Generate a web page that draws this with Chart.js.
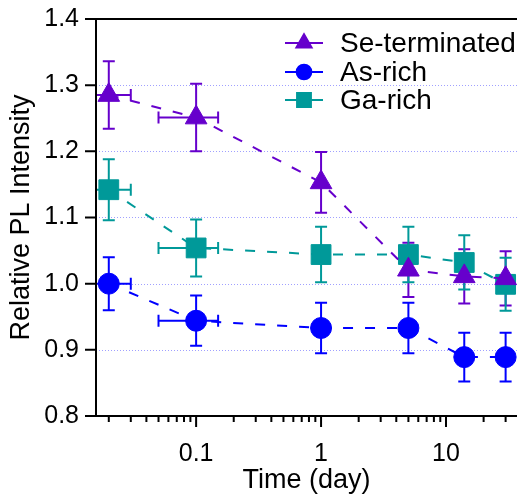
<!DOCTYPE html>
<html>
<head>
<meta charset="utf-8">
<script src="https://cdn.jsdelivr.net/npm/chart.js@4.4.1/dist/chart.umd.min.js"></script>
<style>
html, body { margin: 0; padding: 0; background: #fff; }
</style>
</head>
<body>
<canvas id="myChart" width="517" height="498"></canvas>
<script>
// data
const days = [0.02, 0.1, 1, 5, 14, 30];
const dayErr = [0.01, 0.05, 0, 0, 0, 0];
const seValues = [1.285, 1.251, 1.153, 1.021, 1.011, 1.008];
const seErr = [0.051, 0.051, 0.046, 0.041, 0.041, 0.041];
const asValues = [1.0, 0.944, 0.933, 0.933, 0.889, 0.889];
const asErr = [0.04, 0.038, 0.038, 0.038, 0.037, 0.037];
const gaValues = [1.142, 1.054, 1.044, 1.044, 1.032, 0.999];
const gaErr = [0.046, 0.043, 0.042, 0.042, 0.041, 0.04];
const yTicks = [0.8, 0.9, 1.0, 1.1, 1.2, 1.3, 1.4];
const xLabels = [0.1, 1, 10];

const FONT = '"Liberation Sans", Arial, sans-serif';

function makeSet(label, values, err, color, style, radius) {
    return {
        label: label,
        data: days.map((d, i) => ({ x: d, y: values[i] })),
        yErr: err,
        xErr: dayErr,
        showLine: true,
        borderColor: color,
        backgroundColor: color,
        borderWidth: 2,
        borderDash: [10, 12],
        pointStyle: style,
        pointRadius: radius,
        pointHoverRadius: radius,
        pointBorderWidth: 1,
        legendRadius: radius * 0.7
    };
}

const frame = {
    id: 'frame',
    beforeDatasetsDraw(chart) {
        const { ctx, chartArea: a, scales: { x, y } } = chart;
        ctx.save();
        // dotted gridlines
        ctx.strokeStyle = 'rgba(120,120,255,0.7)';
        ctx.lineWidth = 1;
        ctx.setLineDash([1, 2]);
        yTicks.slice(1, -1).forEach(v => {
            const py = Math.round(y.getPixelForValue(v)) + 0.5;
            ctx.beginPath();
            ctx.moveTo(a.left, py);
            ctx.lineTo(a.right, py);
            ctx.stroke();
        });
        ctx.setLineDash([]);
        // error bars
        ctx.beginPath();
        ctx.rect(a.left, 0, a.right - a.left, chart.height);
        ctx.clip();
        chart.data.datasets.forEach(ds => {
            ctx.strokeStyle = ds.borderColor;
            ctx.lineWidth = 2;
            ds.data.forEach((p, i) => {
                const px = x.getPixelForValue(p.x);
                const py = y.getPixelForValue(p.y);
                const cap = 6;
                const e = ds.yErr[i];
                const y1 = y.getPixelForValue(p.y + e);
                const y2 = y.getPixelForValue(p.y - e);
                ctx.beginPath();
                ctx.moveTo(px, y1); ctx.lineTo(px, y2);
                ctx.moveTo(px - cap, y1); ctx.lineTo(px + cap, y1);
                ctx.moveTo(px - cap, y2); ctx.lineTo(px + cap, y2);
                ctx.stroke();
                const xe = ds.xErr[i];
                if (xe > 0) {
                    const x1 = x.getPixelForValue(p.x - xe);
                    const x2 = x.getPixelForValue(p.x + xe);
                    ctx.beginPath();
                    ctx.moveTo(x1, py); ctx.lineTo(x2, py);
                    ctx.moveTo(x1, py - cap); ctx.lineTo(x1, py + cap);
                    ctx.moveTo(x2, py - cap); ctx.lineTo(x2, py + cap);
                    ctx.stroke();
                }
            });
        });
        ctx.restore();
    },
    afterDraw(chart) {
        const { ctx, chartArea: a, scales: { x, y } } = chart;
        ctx.save();
        ctx.strokeStyle = '#000';
        ctx.lineWidth = 2;
        ctx.beginPath();
        ctx.moveTo(a.left, a.top); ctx.lineTo(a.left, a.bottom);
        ctx.moveTo(a.left - 1, a.bottom); ctx.lineTo(a.right, a.bottom);
        ctx.moveTo(a.left - 1, a.top); ctx.lineTo(a.right, a.top);
        // y ticks
        yTicks.forEach(v => {
            const py = y.getPixelForValue(v);
            ctx.moveTo(a.left - 11, py); ctx.lineTo(a.left, py);
        });
        // x ticks, long at decades
        x.ticks.forEach(t => {
            const px = x.getPixelForValue(t.value);
            const len = xLabels.includes(t.value) ? 11 : 6;
            ctx.moveTo(px, a.bottom); ctx.lineTo(px, a.bottom + len);
        });
        ctx.stroke();

        // legend
        const rows = [43, 72, 100];
        chart.data.datasets.forEach((ds, i) => {
            const ly = rows[i];
            ctx.strokeStyle = ds.borderColor;
            ctx.lineWidth = 2;
            ctx.beginPath();
            ctx.moveTo(285, ly); ctx.lineTo(323, ly);
            ctx.stroke();
            ctx.fillStyle = ds.backgroundColor;
            Chart.helpers.drawPoint(ctx, { pointStyle: ds.pointStyle, rotation: 0, borderWidth: 1, radius: ds.legendRadius }, 304, ly);
            ctx.fillStyle = '#000';
            ctx.font = '28px ' + FONT;
            ctx.textBaseline = 'middle';
            ctx.fillText(ds.label, 340, ly + 1);
        });
        ctx.restore();
    }
};

let ctx = document.getElementById('myChart').getContext('2d');

let chart = new Chart(ctx, {
    type: 'scatter',
    data: {
        datasets: [
            makeSet('Se-terminated', seValues, seErr, '#6600cc', 'triangle', 12.5),
            makeSet('As-rich', asValues, asErr, '#0000ff', 'circle', 10.5),
            makeSet('Ga-rich', gaValues, gaErr, '#009999', 'rect', 14)
        ]
    },
    options: {
        responsive: false,
        animation: false,
        devicePixelRatio: 1,
        layout: { autoPadding: false, padding: { top: 19, right: 0, left: 0, bottom: 0 } },
        plugins: {
            legend: { display: false },
            tooltip: { enabled: false }
        },
        scales: {
            x: {
                type: 'logarithmic',
                min: 0.0158,
                max: 37,
                afterBuildTicks(scale) {
                    const list = [];
                    [0.01, 0.1, 1, 10].forEach(dec => {
                        for (let m = 1; m <= 9; m++) {
                            const v = +(m * dec).toPrecision(3);
                            if (v >= scale.min && v <= scale.max) list.push({ value: v });
                        }
                    });
                    scale.ticks = list;
                },
                afterFit(scale) {
                    scale.height = 82;
                    scale.paddingLeft = 0;
                    scale.paddingRight = 0;
                },
                grid: { display: false, drawTicks: false },
                border: { display: false },
                ticks: {
                    autoSkip: false,
                    maxRotation: 0,
                    padding: 23,
                    color: '#000',
                    font: { family: FONT, size: 25 },
                    callback: function(value) {
                        return xLabels.includes(value) ? String(value) : '';
                    }
                },
                title: {
                    display: true,
                    text: 'Time (day)',
                    color: '#000',
                    font: { family: FONT, size: 27 },
                    padding: { top: 0, bottom: 1 }
                }
            },
            y: {
                min: 0.8,
                max: 1.4,
                afterBuildTicks(scale) {
                    scale.ticks = yTicks.map(v => ({ value: v }));
                },
                afterFit(scale) {
                    scale.width = 96;
                    scale.paddingTop = 0;
                    scale.paddingBottom = 0;
                },
                grid: { display: false, drawTicks: false },
                border: { display: false },
                ticks: {
                    padding: 17,
                    color: '#000',
                    font: { family: FONT, size: 25 },
                    callback: function(value) { return value.toFixed(1); }
                },
                title: {
                    display: true,
                    text: 'Relative PL Intensity',
                    color: '#000',
                    font: { family: FONT, size: 27 },
                    padding: { top: 5, bottom: 0 }
                }
            }
        }
    },
    plugins: [frame]
});
</script>
</body>
</html>
